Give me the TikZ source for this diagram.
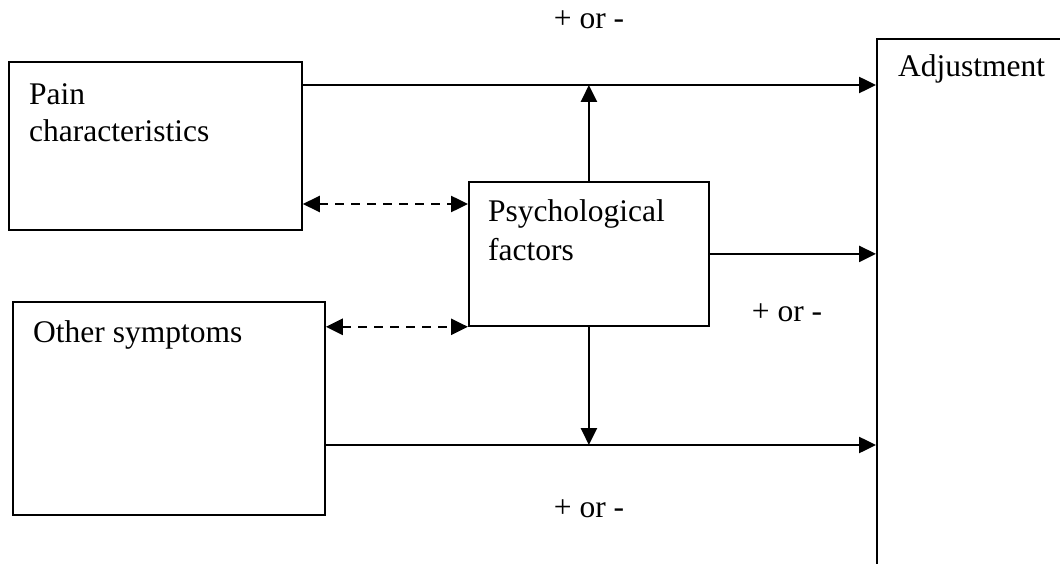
\documentclass[tikz,border=0pt]{standalone}
\usepackage{fontspec}
\setmainfont{Liberation Serif}
\usetikzlibrary{arrows.meta}
\begin{document}
\begin{tikzpicture}[x=1pt,y=-1pt,
  box/.style={draw=black, line width=1.8pt, minimum width=#1, anchor=north west, inner sep=0pt},
  lbl/.style={anchor=base west, inner sep=0pt, font=\fontsize{31.5}{37}\selectfont},
  sgn/.style={anchor=base, inner sep=0pt, font=\fontsize{31.5}{37}\selectfont},
  arr/.style={line width=2.5pt, -{Triangle[length=17pt,width=16pt]}},
  darr/.style={line width=2.5pt, dash pattern=on 9pt off 7pt, {Triangle[length=17pt,width=16pt]}-{Triangle[length=17pt,width=16pt]}}
]
\clip (0,0) rectangle (1060,564);
\fill[white] (0,0) rectangle (1060,564);
% boxes
\node[box=293pt, minimum height=168pt] (pain) at (8,61) {};
\node[box=312pt, minimum height=213pt] (other) at (12,301) {};
\node[box=240pt, minimum height=144pt] (psych) at (468,181) {};
\node[box=240pt, minimum height=560pt] (adj) at (876,38) {};
% texts
\node[lbl] (tpain1) at (29,105) {Pain};
\node[lbl] (tpain2) at (29,142) {characteristics};
\node[lbl] (tother) at (33,342) {Other symptoms};
\node[lbl] (tpsych1) at (488,222) {Psychological};
\node[lbl] (tpsych2) at (488,260) {factors};
\node[lbl] (tadj) at (898,77) {Adjustment};
\node[sgn] (s1) at (589,29) {+ or -};
\node[sgn] (s2) at (787,321) {+ or -};
\node[sgn] (s3) at (589,517) {+ or -};
% levels
\coordinate (ytop) at (0,85);
\coordinate (ydash) at (0,204);
\coordinate (ybot) at (0,445);
% connectors
\draw[arr] (pain.east |- ytop) -- (adj.west |- ytop);
\draw[arr] (psych.north) -- (psych.north |- ytop);
\draw[arr] (psych.east) -- (adj.west |- psych.east);
\draw[arr] (other.east |- ybot) -- (adj.west |- ybot);
\draw[arr] (psych.south) -- (psych.south |- ybot);
\draw[darr] (pain.east |- ydash) -- (psych.west |- ydash);
\draw[darr] (other.east |- psych.south west) -- (psych.south west);
\end{tikzpicture}
\end{document}
